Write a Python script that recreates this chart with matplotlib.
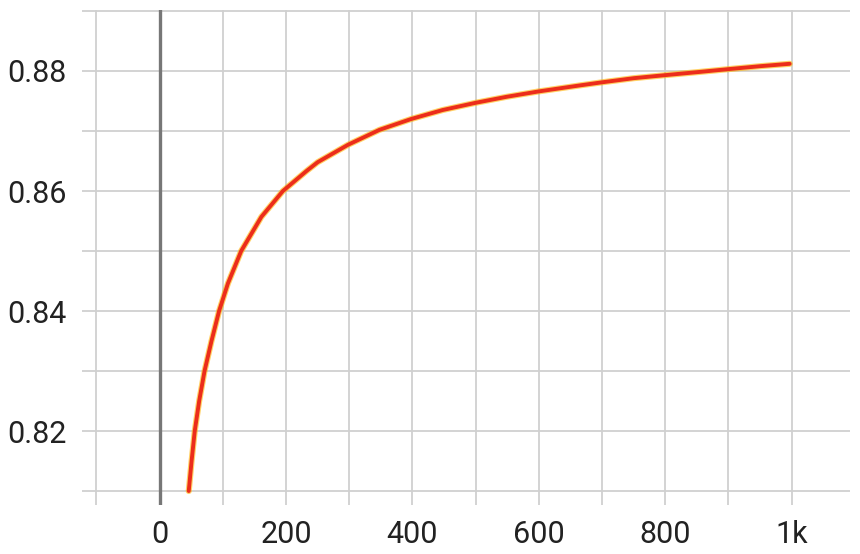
import matplotlib
matplotlib.use("Agg")
import matplotlib.pyplot as plt

# values (step, value)
steps = [46, 50.5, 55.5, 62.5, 71, 82, 94, 108, 129, 161, 195, 232, 250,
         298, 348, 398, 448, 500, 549, 600, 665, 699, 750, 799, 850, 899,
         950, 997]
values = [0.8100, 0.8150, 0.8200, 0.8250, 0.8300, 0.8350, 0.8400, 0.8446,
          0.8500, 0.8557, 0.8600, 0.8633, 0.8648, 0.8677, 0.8702, 0.8720,
          0.8735, 0.8747, 0.8757, 0.8766, 0.8776, 0.8781, 0.8788, 0.8793,
          0.8798, 0.8803, 0.8808, 0.8812]

x_major = [0, 200, 400, 600, 800, 1000]
x_labels = ["0", "200", "400", "600", "800", "1k"]
x_minor = [-100, 100, 300, 500, 700, 900]
y_major = [0.82, 0.84, 0.86, 0.88]
y_labels = ["0.82", "0.84", "0.86", "0.88"]
y_minor = [0.81, 0.83, 0.85, 0.87, 0.89]

plt.rcParams['font.family'] = ['Roboto', 'DejaVu Sans']

fig = plt.figure(figsize=(8.6, 5.54), dpi=100)
ax = fig.add_axes([0.0953, 0.0884, 0.8927, 0.8936])

ax.axvline(0, color="#777777", lw=2.4, zorder=2)
ax.plot(steps, values, color="#ffb300", lw=4.4, alpha=0.6, zorder=3,
        solid_capstyle="round", solid_joinstyle="round")
ax.plot(steps, values, color="#ec2d1b", lw=2.8, zorder=4,
        solid_capstyle="round", solid_joinstyle="round")

ax.set_xlim(-123, 1092)
ax.set_ylim(0.80767, 0.89017)
ax.set_xticks(x_major)
ax.set_xticklabels(x_labels)
ax.set_xticks(x_minor, minor=True)
ax.set_yticks(y_major)
ax.set_yticklabels(y_labels)
ax.set_yticks(y_minor, minor=True)

ax.grid(True, which="both", color="#d0d0d0", lw=1.3, zorder=0)
ax.set_axisbelow(True)
for s in ax.spines.values():
    s.set_visible(False)
ax.tick_params(which="both", length=0)
ax.tick_params(axis="x", pad=11, labelsize=22, labelcolor="#222222")
ax.tick_params(axis="y", pad=11, labelsize=22, labelcolor="#222222")

fig.savefig("out.png", dpi=100)
